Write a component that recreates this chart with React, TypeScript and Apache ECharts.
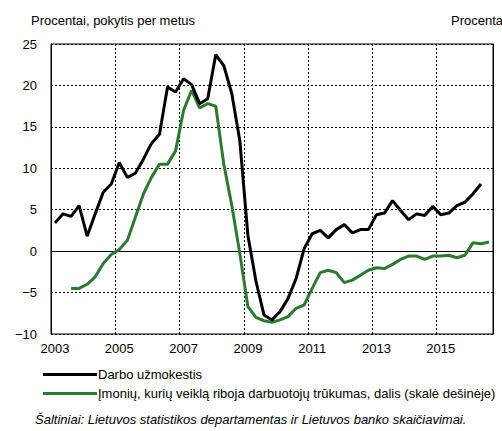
import React, { useEffect, useRef } from "react";
import * as echarts from "echarts";

const years = [2003, 2004, 2005, 2006, 2007, 2008, 2009, 2010, 2011, 2012, 2013, 2014, 2015, 2016];
const categories: string[] = [];
years.forEach((y) => [1, 2, 3, 4].forEach((q) => categories.push(`${y} Q${q}`)));
const cats = categories.slice(0, 55);

const wages: (number | null)[] = [
  3.4, 4.5, 4.2, 5.5, 1.8, 4.5, 7.1, 8.1,
  10.7, 8.9, 9.4, 11.1, 13.0, 14.1, 19.8, 19.2,
  20.8, 20.1, 17.8, 18.4, 23.7, 22.4, 19.0, 13.3,
  1.9, -3.6, -7.7, -8.3, -7.3, -5.7, -3.3, 0.3,
  2.1, 2.5, 1.6, 2.6, 3.2, 2.2, 2.6, 2.6,
  4.4, 4.6, 6.1, 4.9, 3.8, 4.5, 4.3, 5.4,
  4.4, 4.6, 5.5, 5.9, 6.9, 8.1, null,
];

const shortage: (number | null)[] = [
  null, null, -4.5, -4.5, -4.0, -3.1, -1.5, -0.4,
  0.2, 1.3, 4.1, 6.9, 8.9, 10.5, 10.5, 12.1,
  17.0, 19.4, 17.3, 17.8, 17.5, 10.5, 5.5, -0.3,
  -6.7, -8.0, -8.4, -8.6, -8.3, -7.9, -6.9, -6.5,
  -4.5, -2.6, -2.3, -2.6, -3.8, -3.5, -2.9, -2.3,
  -2.0, -2.1, -1.6, -1.0, -0.6, -0.6, -1.0, -0.6,
  -0.6, -0.5, -0.8, -0.5, 1.0, 0.9, 1.1,
];

const FONT = "'Liberation Sans', Arial, sans-serif";
const GREEN = "#2b7a2f";

export default function App() {
  const ref = useRef<HTMLDivElement>(null);
  useEffect(() => {
    if (!ref.current) return;
    const chart = echarts.init(ref.current, null, { renderer: "svg" });
    chart.setOption({
      animation: false,
      textStyle: { fontFamily: FONT },
      grid: {
        left: 51,
        top: 44,
        width: 442,
        height: 290,
        show: true,
        borderColor: "#000",
        borderWidth: 1,
      },
      legend: {
        orient: "vertical",
        left: 43,
        top: 368,
        padding: 0,
        itemGap: 6,
        itemWidth: 54,
        itemHeight: 3,
        icon: "rect",
        textStyle: { fontSize: 13, color: "#000", fontFamily: FONT, padding: [0, 0, 0, -4] },
        data: [
          "Darbo užmokestis",
          "Įmonių, kurių veiklą riboja darbuotojų trūkumas, dalis (skalė dešinėje)",
        ],
      },
      xAxis: {
        type: "category",
        data: cats,
        boundaryGap: true,
        axisLine: { lineStyle: { color: "#000", width: 1 } },
        axisTick: { interval: 7, length: 4, lineStyle: { color: "#000" } },
        axisLabel: {
          interval: 7,
          color: "#000",
          fontSize: 13,
          margin: 8,
          formatter: (v: string) => v.slice(0, 4),
        },
        splitLine: {
          show: true,
          interval: 7,
          lineStyle: { color: "#000", type: [2, 2], width: 1 },
        },
      },
      yAxis: [
        {
          type: "value",
          min: -10,
          max: 25,
          interval: 5,
          axisLine: { show: true, lineStyle: { color: "#000" } },
          axisTick: { show: false },
          axisLabel: {
            color: "#000",
            fontSize: 13,
            margin: 14,
            formatter: (v: number) => String(v).replace("-", "−"),
          },
          splitLine: { show: true, lineStyle: { color: "#000", type: [2, 2], width: 1 } },
        },
        {
          type: "value",
          min: -10,
          max: 25,
          interval: 5,
          position: "right",
          axisLine: { show: true, lineStyle: { color: "#000" } },
          axisTick: { show: false },
          axisLabel: { show: false },
          splitLine: { show: false },
        },
      ],
      series: [
        {
          name: "Darbo užmokestis",
          type: "line",
          data: wages,
          yAxisIndex: 0,
          symbol: "none",
          lineStyle: { color: "#000", width: 3 },
          itemStyle: { color: "#000" },
          z: 3,
        },
        {
          name: "Įmonių, kurių veiklą riboja darbuotojų trūkumas, dalis (skalė dešinėje)",
          type: "line",
          data: shortage,
          yAxisIndex: 1,
          symbol: "none",
          lineStyle: { color: GREEN, width: 3 },
          itemStyle: { color: GREEN },
          z: 2,
        },
      ],
      graphic: [
        {
          type: "text",
          left: 31,
          top: 14,
          style: { text: "Procentai, pokytis per metus", fontSize: 13, fill: "#000", font: `13px ${FONT}` },
        },
        {
          type: "text",
          left: 451,
          top: 14,
          style: { text: "Procentai", fontSize: 13, fill: "#000", font: `13px ${FONT}` },
        },
        {
          type: "text",
          left: 35,
          top: 413,
          style: {
            text: "Šaltiniai: Lietuvos statistikos departamentas ir Lietuvos banko skaičiavimai.",
            fill: "#000",
            font: `italic 13px ${FONT}`,
          },
        },
      ],
    });
    return () => chart.dispose();
  }, []);
  return (
    <div
      ref={ref}
      style={{ position: "absolute", left: 0, top: 0, width: 502, height: 431, background: "#fff" }}
    />
  );
}
